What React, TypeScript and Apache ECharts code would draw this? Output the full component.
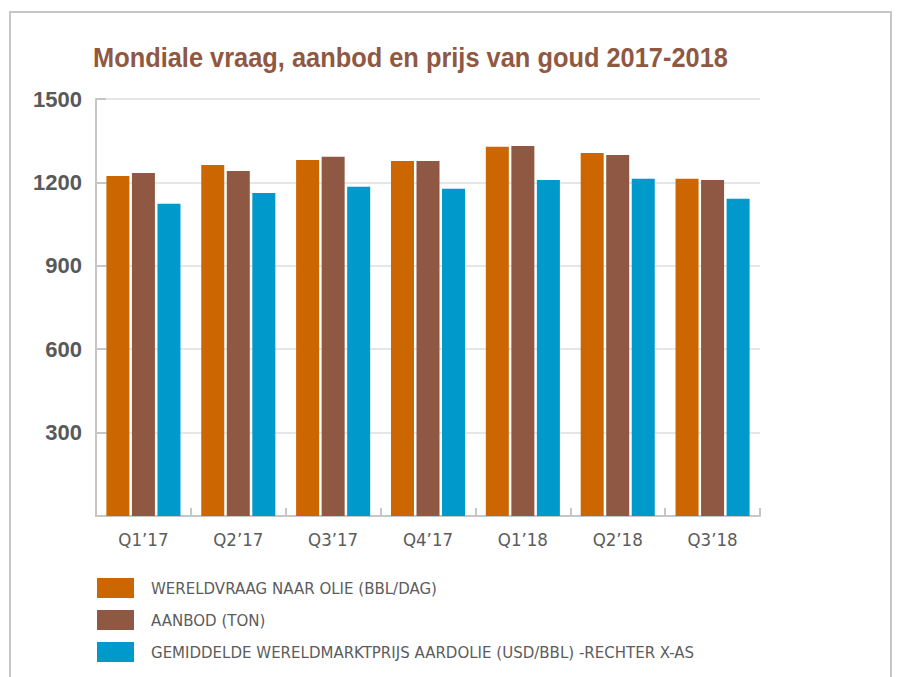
import React, { useEffect, useRef } from "react";
import * as echarts from "echarts";

const categories = ["Q1’17", "Q2’17", "Q3’17", "Q4’17", "Q1’18", "Q2’18", "Q3’18"];
const seriesNames = [
  "WERELDVRAAG NAAR OLIE (BBL/DAG)",
  "AANBOD (TON)",
  "GEMIDDELDE WERELDMARKTPRIJS AARDOLIE (USD/BBL) -RECHTER X-AS",
];
const vraag = [1223, 1263, 1281, 1277, 1328, 1306, 1213];
const aanbod = [1234, 1241, 1292, 1277, 1331, 1299, 1209];
const prijs = [1123, 1162, 1184, 1177, 1209, 1213, 1141];
const colors = ["#CC6600", "#8F5843", "#0099CC"];
const titleText = "Mondiale vraag, aanbod en prijs van goud 2017-2018";

const COND = "'DejaVu Sans Condensed', 'Liberation Sans', Arial, sans-serif";
const SANS = "'Liberation Sans', Arial, Helvetica, sans-serif";

export default function App() {
  const ref = useRef<HTMLDivElement>(null);
  useEffect(() => {
    document.body.style.margin = "0";
    const chart = echarts.init(ref.current!, null, { renderer: "svg" });

    const titleFont = "bold 28.5px 'Liberation Sans', Arial, sans-serif";
    let scaleX = 0.82;
    try {
      const c = document.createElement("canvas").getContext("2d");
      if (c) {
        c.font = titleFont;
        const w = c.measureText(titleText).width;
        if (w > 0) scaleX = 635 / w;
      }
    } catch (e) {}

    const mk = (name: string, data: number[], color: string) => ({
      name,
      type: "bar",
      data,
      barWidth: 23,
      barGap: "11%",
      itemStyle: { color },
    });
    chart.setOption({
      animation: false,
      backgroundColor: "#ffffff",
      graphic: [
        {
          type: "rect",
          shape: { x: 10, y: 12, width: 881, height: 700 },
          style: { fill: "none", stroke: "#C6C6C6", lineWidth: 2 },
          silent: true,
        },
        {
          type: "text",
          x: 93,
          y: 57,
          scaleX,
          style: {
            text: titleText,
            font: titleFont,
            fill: "#8F5843",
            textAlign: "left",
            textVerticalAlign: "middle",
          },
          silent: true,
        },
      ],
      legend: {
        orient: "vertical",
        left: 97,
        top: 578,
        padding: 0,
        itemWidth: 37,
        itemHeight: 20,
        itemGap: 12,
        icon: "rect",
        textStyle: { fontFamily: COND, fontSize: 16.7, lineHeight: 20, color: "#5C5C5C", padding: [0, 0, 0, 12] },
        data: seriesNames,
      },
      grid: { left: 96, right: 137, top: 99, bottom: 161 },
      xAxis: {
        type: "category",
        data: categories,
        axisLine: { show: true, lineStyle: { color: "#C6C6C6", width: 2 } },
        axisTick: { show: true, inside: true, length: 8, lineStyle: { color: "#C6C6C6", width: 2 } },
        axisLabel: { fontFamily: COND, fontSize: 18.5, color: "#5C5C5C", margin: 14 },
      },
      yAxis: {
        type: "value",
        min: 0,
        max: 1500,
        interval: 300,
        axisLine: { show: true, lineStyle: { color: "#C6C6C6", width: 2 } },
        axisTick: { show: true, inside: true, length: 10, lineStyle: { color: "#C6C6C6", width: 2 } },
        splitLine: { show: true, lineStyle: { color: "#E6E6E6", width: 2 } },
        axisLabel: {
          fontFamily: SANS,
          fontWeight: "bold",
          fontSize: 22,
          color: "#595959",
          margin: 14,
          formatter: (v: number) => (v === 0 ? "" : String(v)),
        },
      },
      series: [mk(seriesNames[0], vraag, colors[0]), mk(seriesNames[1], aanbod, colors[1]), mk(seriesNames[2], prijs, colors[2])],
    });
    return () => chart.dispose();
  }, []);
  return <div ref={ref} style={{ position: "fixed", left: 0, top: 0, width: 897, height: 677 }} />;
}
